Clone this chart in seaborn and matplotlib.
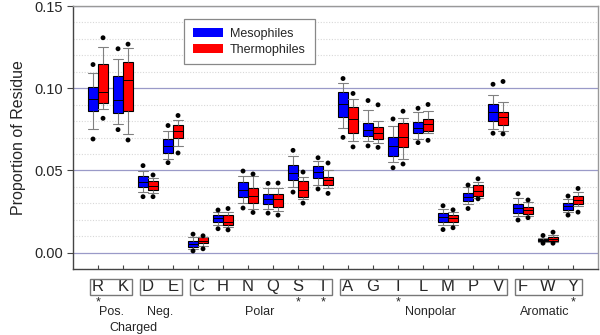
import matplotlib
matplotlib.use("Agg")
import matplotlib.pyplot as plt
import matplotlib.patches as mpatches
import matplotlib.transforms as mtrans
from matplotlib.ticker import MultipleLocator
import seaborn as sns
import pandas as pd
import numpy as np

# residues in plot order
residues = ["R", "K", "D", "E", "C", "H", "N", "Q", "S", "T",
            "A", "G", "I", "L", "M", "P", "V", "F", "W", "Y"]

# mesophiles: outer dots, whisker ends, quartiles, median
meso_dot_lo = [0.0691, 0.0748, 0.0340, 0.0547, 0.0010, 0.0145, 0.0271, 0.0240, 0.0368, 0.0387,
               0.0701, 0.0649, 0.0516, 0.0669, 0.0140, 0.0268, 0.0726, 0.0198, 0.0057, 0.0228]
meso_whis_lo = [0.0754, 0.0783, 0.0366, 0.0571, 0.0023, 0.0167, 0.0301, 0.0265, 0.0399, 0.0413,
                0.0759, 0.0681, 0.0551, 0.0693, 0.0167, 0.0293, 0.0750, 0.0220, 0.0065, 0.0244]
meso_q1 = [0.0862, 0.0852, 0.0396, 0.0608, 0.0035, 0.0189, 0.0338, 0.0295, 0.0443, 0.0451,
           0.0823, 0.0707, 0.0585, 0.0726, 0.0189, 0.0313, 0.0803, 0.0240, 0.0071, 0.0259]
meso_med = [0.0935, 0.0931, 0.0431, 0.0646, 0.0053, 0.0210, 0.0382, 0.0326, 0.0486, 0.0492,
            0.0902, 0.0746, 0.0649, 0.0760, 0.0216, 0.0340, 0.0854, 0.0273, 0.0077, 0.0281]
meso_q3 = [0.1008, 0.1076, 0.0463, 0.0693, 0.0071, 0.0230, 0.0431, 0.0354, 0.0533, 0.0527,
           0.0976, 0.0791, 0.0706, 0.0795, 0.0242, 0.0364, 0.0902, 0.0297, 0.0084, 0.0301]
meso_whis_hi = [0.1090, 0.1180, 0.0498, 0.0738, 0.0094, 0.0246, 0.0466, 0.0395, 0.0585, 0.0559,
                0.1033, 0.0870, 0.0773, 0.0856, 0.0265, 0.0399, 0.0957, 0.0334, 0.0088, 0.0327]
meso_dot_hi = [0.1144, 0.1240, 0.0529, 0.0773, 0.0112, 0.0259, 0.0496, 0.0421, 0.0622, 0.0577,
               0.1059, 0.0925, 0.0813, 0.0878, 0.0285, 0.0411, 0.1024, 0.0358, 0.0104, 0.0344]

# thermophiles
thermo_dot_lo = [0.0817, 0.0685, 0.0340, 0.0606, 0.0023, 0.0138, 0.0244, 0.0228, 0.0301, 0.0360,
                 0.0643, 0.0640, 0.0539, 0.0683, 0.0151, 0.0327, 0.0722, 0.0212, 0.0057, 0.0246]
thermo_whis_lo = [0.0874, 0.0722, 0.0362, 0.0646, 0.0043, 0.0155, 0.0266, 0.0250, 0.0326, 0.0395,
                  0.0677, 0.0669, 0.0570, 0.0728, 0.0167, 0.0335, 0.0740, 0.0224, 0.0065, 0.0281]
thermo_q1 = [0.0911, 0.0860, 0.0380, 0.0698, 0.0057, 0.0165, 0.0303, 0.0280, 0.0338, 0.0409,
             0.0728, 0.0689, 0.0643, 0.0742, 0.0189, 0.0346, 0.0774, 0.0234, 0.0071, 0.0297]
thermo_med = [0.0974, 0.1051, 0.0405, 0.0742, 0.0073, 0.0185, 0.0346, 0.0326, 0.0378, 0.0439,
              0.0813, 0.0730, 0.0704, 0.0780, 0.0210, 0.0376, 0.0823, 0.0259, 0.0085, 0.0321]
thermo_q3 = [0.1146, 0.1157, 0.0433, 0.0779, 0.0092, 0.0226, 0.0393, 0.0358, 0.0433, 0.0462,
             0.0887, 0.0765, 0.0787, 0.0815, 0.0226, 0.0411, 0.0856, 0.0279, 0.0096, 0.0344]
thermo_whis_hi = [0.1250, 0.1246, 0.0451, 0.0809, 0.0096, 0.0246, 0.0466, 0.0390, 0.0462, 0.0502,
                  0.0933, 0.0799, 0.0821, 0.0862, 0.0246, 0.0429, 0.0917, 0.0305, 0.0104, 0.0370]
thermo_dot_hi = [0.1307, 0.1268, 0.0472, 0.0834, 0.0102, 0.0268, 0.0478, 0.0423, 0.0490, 0.0545,
                 0.0968, 0.0899, 0.0860, 0.0901, 0.0260, 0.0449, 0.1041, 0.0320, 0.0124, 0.0390]

# residue groups drawn under the axis
group_spans = [("R", "K"), ("D", "E"), ("C", "T"), ("A", "V"), ("F", "Y")]
starred = ["R", "S", "T", "I", "Y"]
group_labels = [("Pos.", 0.55, 0), ("Neg.", 2.5, 0), ("Charged", 1.4, 1),
                ("Polar", 6.45, 0), ("Nonpolar", 13.3, 0), ("Aromatic", 17.88, 0)]

# build long tables: 5 values per box give exact whiskers/quartiles/median
box_rows = []
dot_rows = []
for name, stats in [("Mesophiles", (meso_whis_lo, meso_q1, meso_med, meso_q3, meso_whis_hi)),
                    ("Thermophiles", (thermo_whis_lo, thermo_q1, thermo_med, thermo_q3, thermo_whis_hi))]:
    for i, res in enumerate(residues):
        for s in stats:
            box_rows.append([res, name, s[i]])
for name, lo, hi in [("Mesophiles", meso_dot_lo, meso_dot_hi),
                     ("Thermophiles", thermo_dot_lo, thermo_dot_hi)]:
    for i, res in enumerate(residues):
        dot_rows.append([res, name, lo[i]])
        dot_rows.append([res, name, hi[i]])
boxes = pd.DataFrame(box_rows, columns=["Residue", "Group", "Value"])
dots = pd.DataFrame(dot_rows, columns=["Residue", "Group", "Value"])

sns.set_style("white")
plt.rcParams["font.family"] = ["Liberation Sans", "DejaVu Sans"]

palette = {"Mesophiles": "#0000ff", "Thermophiles": "#ff0000"}

fig = plt.figure(figsize=(6, 3.35), dpi=100)
ax = fig.add_axes([0.1217, 0.197, 0.875, 0.785])

sns.boxplot(data=boxes, x="Residue", y="Value", hue="Group", order=residues,
            hue_order=["Mesophiles", "Thermophiles"], palette=palette,
            saturation=1, width=0.8, whis=(0, 100), linecolor="black", linewidth=0.8,
            whiskerprops=dict(color="#808080"), capprops=dict(color="#808080"),
            medianprops=dict(color="black", linewidth=0.7),
            legend=False, ax=ax, zorder=3)

# widen the caps to the full box width
for line in ax.lines:
    xd = np.asarray(line.get_xdata(), dtype=float)
    yd = np.asarray(line.get_ydata(), dtype=float)
    if len(xd) == 2 and yd[0] == yd[1] and xd[0] != xd[1] and line.get_color() == "#808080":
        c = xd.mean()
        line.set_xdata([c - 0.19, c + 0.19])

sns.stripplot(data=dots, x="Residue", y="Value", hue="Group", order=residues,
              hue_order=["Mesophiles", "Thermophiles"], palette={"Mesophiles": "black", "Thermophiles": "black"},
              dodge=True, jitter=False, size=3.5, legend=False, ax=ax, zorder=4)

ax.set_xlim(-1, 20)
ax.set_ylim(-0.01, 0.15)
ax.set_xlabel("")
ax.set_ylabel("Proportion of Residue", fontsize=11.5, labelpad=6)

# gridlines
ax.yaxis.set_major_locator(MultipleLocator(0.05))
ax.yaxis.set_minor_locator(MultipleLocator(0.01))
ax.grid(which="major", axis="y", color="#9a9ac8", linewidth=0.9, linestyle="-")
ax.grid(which="minor", axis="y", color="#d8d8d8", linewidth=0.8, linestyle=(0, (1, 1.5)))
ax.grid(which="major", axis="x", visible=False)
ax.set_axisbelow(True)
ax.set_yticks([0.0, 0.05, 0.10, 0.15])
ax.set_yticklabels(["0.00", "0.05", "0.10", "0.15"])
ax.tick_params(axis="y", which="major", direction="out", length=4, width=0.8,
               color="#444444", labelsize=10.5, pad=3, left=True)
ax.tick_params(axis="y", which="minor", length=0)
ax.tick_params(axis="x", direction="in", length=3, width=0.8, color="#444444",
               labelsize=12, pad=7, bottom=True)

for side in ["left", "bottom"]:
    ax.spines[side].set_color("#444444")
    ax.spines[side].set_linewidth(1.0)
for side in ["top", "right"]:
    ax.spines[side].set_color("#999999")
    ax.spines[side].set_linewidth(1.0)

# boxes around residue groups, asterisks, group names
trans = mtrans.blended_transform_factory(ax.transData, ax.transAxes)
for first, last in group_spans:
    x0 = residues.index(first) - 0.32
    x1 = residues.index(last) + 0.34
    ax.add_patch(mpatches.Rectangle((x0, -0.1), x1 - x0, 0.062, transform=trans,
                                    fill=False, edgecolor="#777777", linewidth=1.0, clip_on=False))
for res in starred:
    ax.text(residues.index(res), -0.104, "*", transform=trans, ha="center", va="top",
            fontsize=9)
for label, xpos, row in group_labels:
    ax.text(xpos, -0.165 - row * 0.058, label, transform=trans, ha="center", va="center",
            fontsize=9)

handles = [mpatches.Patch(facecolor=palette[g], edgecolor="none", label=g)
           for g in ["Mesophiles", "Thermophiles"]]
leg = ax.legend(handles=handles, loc="upper left", bbox_to_anchor=(0.211, 0.95),
                borderaxespad=0, fancybox=False, framealpha=1, edgecolor="#888888",
                fontsize=9, handlelength=2.4, handleheight=0.7, handletextpad=0.6,
                labelspacing=0.3, borderpad=0.7)
leg.get_frame().set_linewidth(0.9)

fig.savefig("out.png", dpi=100)
